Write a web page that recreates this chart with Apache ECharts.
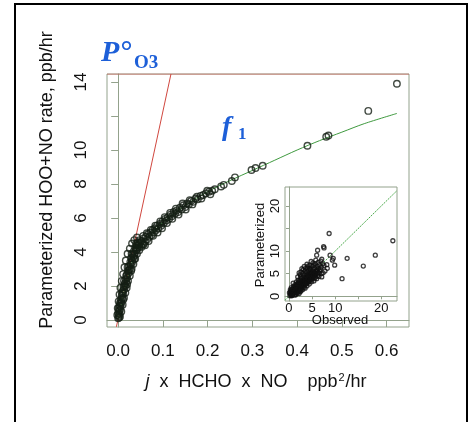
<!DOCTYPE html>
<html>
<head>
<meta charset="utf-8">
<script src="https://cdn.jsdelivr.net/npm/echarts@6/dist/echarts.min.js"></script>
<style>
  html, body { margin: 0; padding: 0; background: #fff; }
  #chart { width: 474px; height: 422px; }
</style>
</head>
<body>
<div id="chart"></div>
<script>
// main panel: j x HCHO x NO vs parameterized HOO+NO rate
const xTicks = [0, 0.1, 0.2, 0.3, 0.4, 0.5, 0.6]
const yTicks = [0, 2, 4, 6, 8, 10, 12, 14]
const yLabels = [0, 2, 4, 6, 8, 10, 14]

const mainPoints = [
  [0.000,0.10],[0.001,0.25],[0.000,0.40],[0.002,0.55],[0.001,0.70],[0.003,0.85],[0.005,0.80],[0.004,1.00],
  [0.007,1.05],[0.006,1.20],[0.009,1.30],[0.008,1.45],[0.011,1.55],[0.010,1.70],[0.013,1.80],[0.012,1.95],
  [0.016,2.00],[0.015,2.15],[0.018,2.25],[0.017,2.40],[0.020,2.50],[0.019,2.65],[0.023,2.75],[0.022,2.90],
  [0.026,3.00],[0.024,3.15],[0.028,3.25],[0.027,3.40],[0.031,3.50],[0.029,3.65],[0.034,3.70],[0.032,3.85],
  [0.037,3.90],[0.035,4.05],[0.040,4.10],[0.038,4.25],[0.043,4.25],[0.041,4.40],[0.046,4.40],[0.044,4.55],
  [0.049,4.55],[0.048,4.70],[0.004,0.60],[0.011,1.20],[0.020,2.10],[0.029,2.90],[0.036,3.60],[0.013,2.30],
  [0.021,3.10],[0.030,3.90],[0.040,4.50],
  [-0.002,0.30],[-0.001,0.70],[0.001,1.10],[0.003,1.50],[0.005,1.90],[0.008,2.30],[0.011,2.70],[0.014,3.10],
  [0.017,3.50],[0.021,3.90],[0.026,4.20],[0.031,4.50],[0.036,4.70],[0.042,4.85],
  [0.004,0.20],[0.007,0.50],[0.010,0.90],[0.013,1.30],[0.016,1.60],[0.019,1.90],[0.022,2.30],[0.026,2.60],
  [0.030,3.00],[0.034,3.30],[0.038,3.60],[0.042,3.90],[0.047,4.10],[0.052,4.30],[0.057,4.45],
  [0.002,0.15],[0.003,0.35],[0.006,0.95],[0.009,1.60],[0.014,2.05],[0.018,2.60],[0.024,2.95],[0.031,3.40],
  [0.036,3.80],[0.042,4.15],[0.047,4.30],[0.053,4.50],
  [0.052,4.65],[0.055,4.45],[0.057,4.80],[0.060,4.60],[0.062,4.90],[0.065,4.75],[0.067,5.05],[0.070,4.90],
  [0.072,5.15],[0.075,5.00],[0.077,5.30],[0.080,5.15],[0.082,5.40],[0.085,5.30],[0.087,5.55],[0.090,5.40],
  [0.093,5.65],[0.096,5.55],[0.099,5.80],[0.102,5.70],[0.105,5.95],[0.108,5.85],[0.111,6.05],[0.114,5.95],
  [0.117,6.20],[0.120,6.10],[0.124,6.35],[0.127,6.25],[0.131,6.45],[0.134,6.35],[0.138,6.60],[0.142,6.50],
  [0.146,6.75],[0.150,6.65],[0.154,6.85],[0.158,6.80],[0.163,7.00],[0.168,6.95],[0.173,7.15],[0.178,7.10],
  [0.184,7.30],[0.190,7.35],[0.196,7.45],[0.203,7.55],[0.210,7.60],
  [0.056,4.95],[0.060,4.40],[0.064,5.10],[0.068,4.65],[0.073,5.30],[0.078,4.95],[0.083,5.55],[0.088,5.15],
  [0.094,5.80],[0.098,5.40],[0.104,6.05],[0.109,5.70],[0.116,6.30],[0.121,5.95],[0.129,6.55],[0.135,6.20],
  [0.144,6.85],[0.151,6.50],[0.160,7.05],[0.166,6.80],[0.176,7.25],[0.186,7.15],[0.199,7.60],[0.206,7.40],
  [0.216,7.69],[0.230,7.85],[0.236,7.95],[0.254,8.18],[0.261,8.39],[0.298,8.82],[0.307,8.94],[0.323,9.07],
  [0.423,10.25],[0.465,10.78],[0.470,10.85],[0.559,12.30],[0.623,13.90]
]
const f1Line = [
  [0.000,0.05],[0.008,1.0],[0.016,2.0],[0.027,3.0],[0.038,4.0],[0.050,4.5],[0.060,4.75],[0.080,5.25],
  [0.100,5.75],[0.150,6.75],[0.200,7.55],[0.250,8.20],[0.300,8.80],[0.350,9.40],[0.400,10.0],[0.450,10.55],
  [0.500,11.05],[0.550,11.55],[0.623,12.15]
]
const p0Line = [[-0.004,-0.40],[0.118,14.47]]
const p0Cap = [[-0.025,14.47],[0.65,14.47]]

// inset: observed vs parameterized
const insetTicks = [0, 5, 10, 15, 20]
const insetLabels = [0, 5, 10, 20]
const insetPoints = [
  [0.2,0.1],[0.3,0.5],[0.5,0.2],[0.6,0.8],[0.8,0.4],[0.9,1.1],[1.0,0.6],[1.1,1.4],[1.2,0.9],[1.3,1.7],
  [1.4,1.1],[1.5,2.0],[1.6,1.3],[1.7,2.3],[1.8,1.5],[1.9,2.6],[2.0,1.8],[2.1,2.9],[2.2,2.0],[2.3,1.4],
  [2.4,2.4],[2.5,3.2],[2.6,2.1],[2.7,2.8],[2.8,1.7],[2.9,3.4],[3.0,2.6],[0.4,1.2],[0.7,1.6],[1.0,2.2],
  [1.3,2.6],[0.5,1.9],[0.9,2.9],[1.6,3.2],[2.0,3.6],[1.2,0.3],[1.8,0.7],[2.4,1.0],[3.0,1.5],[3.3,2.0],
  [0.1,0.8],[0.3,1.5],[1.5,0.5],[2.0,1.0],
  [0.5,0.5],[0.7,0.3],[0.8,1.0],[1.0,1.0],[1.1,0.8],[1.2,1.3],[1.4,1.5],[1.5,1.2],[1.6,1.8],[1.7,1.0],
  [1.8,2.0],[1.9,1.7],[2.0,2.3],[2.1,1.5],[2.2,2.6],[2.3,2.2],[2.4,1.8],[2.5,2.7],[2.6,2.4],[2.7,1.9],
  [2.8,3.0],[2.9,2.3],[3.0,3.3],[3.1,2.5],[3.2,3.6],[3.3,2.8],[3.4,3.5],[3.5,3.0],[3.6,3.9],[3.7,3.4],
  [3.8,2.9],[3.9,4.2],[4.0,3.7],[4.1,3.3],[4.2,4.5],[4.3,4.0],[4.4,3.6],[4.5,4.8],[4.6,4.3],[4.7,3.9],
  [4.8,5.1],[4.9,4.6],[5.0,4.2],[5.1,5.4],[5.2,4.9],[5.3,4.3],[5.5,5.2],[5.6,4.7],[5.8,5.5],[5.9,5.0],
  [6.1,5.9],[6.3,5.3],[6.4,6.2],[6.7,5.6],[0.3,0.9],[0.6,1.3],[0.9,1.7],[1.2,2.0],[1.5,2.4],[1.8,2.8],
  [2.1,3.2],[2.4,3.6],[2.7,3.9],[3.0,4.3],[3.3,4.7],[3.6,5.0],[3.9,5.4],[4.2,5.8],[4.5,6.2],[1.9,4.3],
  [2.4,4.8],[2.6,5.4],[3.1,5.9],[3.6,6.2],[4.1,6.7],[4.6,6.0],[5.0,6.6],[5.4,6.9],[5.7,7.2],[6.3,7.5],
  [6.9,7.8],[7.3,7.2],[0.6,0.1],[1.4,0.3],[2.2,0.6],[2.6,1.2],[3.5,1.8],[3.9,2.3],[4.4,2.7],[4.9,3.2],
  [5.4,3.4],[6.0,3.9],[6.5,4.4],[7.0,5.0],[7.8,5.6],[8.2,7.0],
  [3.1,3.8],[3.2,3.0],[3.4,2.4],[3.5,4.1],[3.6,3.3],[3.7,2.8],[3.8,4.5],[3.9,3.6],[4.0,3.0],[4.1,4.8],
  [4.2,3.9],[4.3,3.2],[4.4,5.2],[4.5,4.2],[4.6,3.5],[4.7,5.6],[4.8,4.5],[4.9,3.8],[5.0,5.0],[5.1,4.0],
  [5.2,6.0],[5.3,4.6],[5.4,5.4],[5.5,3.9],[5.6,6.3],[5.7,5.0],[5.8,4.3],[6.0,5.6],[6.1,6.6],[6.2,4.6],
  [2.5,4.3],[3.0,5.0],[3.5,5.6],[2.2,5.2],[2.8,6.1],[3.3,6.6],[4.0,6.3],[4.5,6.9],[3.9,7.1],[6.5,5.1],
  [6.8,6.0],[7.1,4.3],[6.6,7.0],[7.0,6.5],[7.4,5.2],[7.6,6.8],[7.1,8.2],[8.3,6.2],[9.9,6.9],[9.6,8.4],
  [8.9,9.1],[9.4,8.0],[6.0,9.1],[7.5,11.0],[6.2,10.2],[7.6,10.7],[8.7,13.9],[22.5,12.3],[18.7,9.1],[12.6,8.4],
  [16.1,6.7],[11.5,3.9],[5.2,7.4],[4.8,7.7],[5.8,8.0]
]
const insetDiag = [[-0.86,-0.86],[23.4,23.4]]

const axisGrey = '#93a28c'
const blue = '#1d5fd8'
const sans = 'Liberation Sans, Arial, sans-serif'
const serif = 'Liberation Serif, Times New Roman, serif'

const chart = echarts.init(document.getElementById('chart'))

const option = {
  animation: false,
  backgroundColor: '#fff',
  grid: [
    { left: 107, top: 74, right: 65, bottom: 95, show: true, borderColor: axisGrey, borderWidth: 1 },
    { left: 285, top: 187, right: 77, bottom: 121, show: true, borderColor: axisGrey, borderWidth: 1,
      backgroundColor: '#fff', z: 5 }
  ],
  xAxis: [
    {
      gridIndex: 0, type: 'value', min: -0.025, max: 0.65,
      axisLine: { show: true, lineStyle: { color: axisGrey } },
      axisTick: { show: true, length: 7, customValues: xTicks, lineStyle: { color: axisGrey } },
      axisLabel: { customValues: xTicks, margin: 16, color: '#111', fontSize: 17, fontFamily: sans,
        formatter: v => v.toFixed(1) },
      splitLine: { show: false }
    },
    {
      gridIndex: 1, type: 'value', min: -0.86, max: 23.4, z: 6,
      axisLine: { show: true, lineStyle: { color: axisGrey } },
      axisTick: { show: true, length: 3, customValues: insetTicks, lineStyle: { color: axisGrey } },
      axisLabel: { customValues: insetLabels, margin: 1, color: '#111', fontSize: 13, fontFamily: sans },
      splitLine: { show: false }
    }
  ],
  yAxis: [
    {
      gridIndex: 0, type: 'value', min: -0.41, max: 14.47,
      axisLine: { show: true, lineStyle: { color: axisGrey } },
      axisTick: { show: true, length: 7, customValues: yTicks, lineStyle: { color: axisGrey } },
      axisLabel: { customValues: yLabels, rotate: 90, margin: 17, color: '#111', fontSize: 17, fontFamily: sans },
      splitLine: { show: false }
    },
    {
      gridIndex: 1, type: 'value', min: -1.04, max: 24.2, z: 6,
      axisLine: { show: true, lineStyle: { color: axisGrey } },
      axisTick: { show: true, length: 3, customValues: insetTicks, lineStyle: { color: axisGrey } },
      axisLabel: { customValues: insetLabels, rotate: 90, margin: 3, color: '#111', fontSize: 13, fontFamily: sans },
      splitLine: { show: false }
    }
  ],
  series: [
    {
      type: 'line', xAxisIndex: 0, yAxisIndex: 0, data: p0Line, showSymbol: false,
      lineStyle: { color: '#d0473f', width: 1 }, z: 2
    },
    {
      type: 'line', xAxisIndex: 0, yAxisIndex: 0, data: p0Cap, showSymbol: false,
      lineStyle: { color: '#d0473f', width: 1, opacity: 0.7 }, z: 2
    },
    {
      type: 'line', xAxisIndex: 0, yAxisIndex: 0, data: f1Line, showSymbol: false, smooth: 0.3,
      lineStyle: { color: '#3f9a3f', width: 1 }, z: 3
    },
    {
      type: 'scatter', xAxisIndex: 0, yAxisIndex: 0, data: mainPoints, symbolSize: 6.5,
      itemStyle: { color: 'rgba(0,0,0,0)', borderColor: '#141e14', borderWidth: 1.4 }, z: 4
    },
    {
      type: 'line', xAxisIndex: 1, yAxisIndex: 1, data: insetDiag, showSymbol: false,
      lineStyle: { color: '#4caa4c', width: 1, type: [2, 1] }, z: 7
    },
    {
      type: 'scatter', xAxisIndex: 1, yAxisIndex: 1, data: insetPoints, symbolSize: 4,
      itemStyle: { color: 'rgba(0,0,0,0)', borderColor: '#101010', borderWidth: 1.3 }, z: 8
    }
  ],
  graphic: [
    { type: 'rect', shape: { x: 15, y: 4, width: 452, height: 440 },
      style: { fill: 'none', stroke: '#000', lineWidth: 2 }, z: 20 },
    { type: 'text', x: 101, y: 38, style: { text: 'P°', font: 'italic bold 30px ' + serif, fill: blue } },
    { type: 'text', x: 134, y: 54, style: { text: 'O3', font: 'bold 19px ' + serif, fill: blue } },
    { type: 'text', x: 222, y: 114, style: { text: 'f', font: 'italic bold 28px ' + serif, fill: blue } },
    { type: 'text', x: 238, y: 126, style: { text: '1', font: 'bold 17px ' + serif, fill: blue } },
    { type: 'text', x: 47, y: 180, rotation: Math.PI / 2,
      style: { text: 'Parameterized HOO+NO rate, ppb/hr', font: '18px ' + sans, fill: '#111',
        align: 'center', verticalAlign: 'middle' } },
    { type: 'text', x: 256, y: 382,
      style: { text: '{i|j}  x  HCHO  x  NO    ppb{s|2}/hr', font: '18px ' + sans, fill: '#111',
        align: 'center', verticalAlign: 'middle',
        rich: {
          i: { fontStyle: 'italic', fontSize: 18, fontFamily: sans },
          s: { fontSize: 11, fontFamily: sans, verticalAlign: 'top', padding: [0, 1, 8, 1] }
        } } },
    { type: 'text', x: 260, y: 245, rotation: Math.PI / 2, z: 10,
      style: { text: 'Parameterized', font: '13px ' + sans, fill: '#111', align: 'center', verticalAlign: 'middle' } },
    { type: 'text', x: 340, y: 320, z: 10,
      style: { text: 'Observed', font: '13px ' + sans, fill: '#111', align: 'center', verticalAlign: 'middle' } }
  ]
}

chart.setOption(option)
</script>
</body>
</html>
